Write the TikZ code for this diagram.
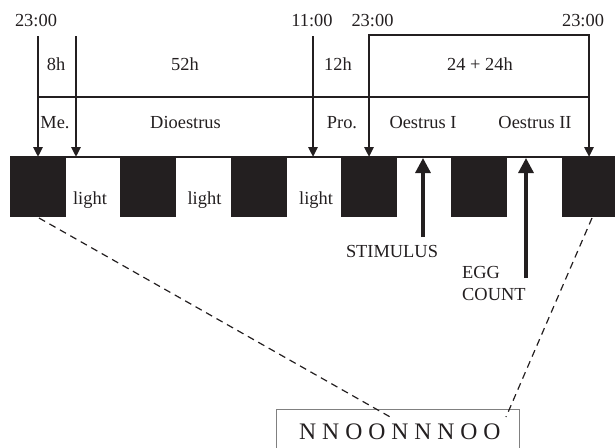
\documentclass[tikz,border=0pt]{standalone}
\usepackage{fontspec}
\setmainfont{Liberation Serif}
\usetikzlibrary{arrows.meta}
\definecolor{ink}{HTML}{231F20}
\begin{document}
\begin{tikzpicture}[x=1pt,y=-1pt,
  lbl/.style={font=\fontsize{18.4}{22}\selectfont, text=ink, inner sep=0, anchor=base},
  dark/.style={fill=ink, draw=none, inner sep=0, minimum height=61pt, anchor=north west},
  heavy/.style={draw=ink, line width=2.8pt},
  downarr/.style={heavy, -{Triangle[width=9pt,length=10pt]}},
  bothdown/.style={heavy, line join=miter, {Triangle[width=9pt,length=10pt]}-{Triangle[width=9pt,length=10pt]}},
  uparr/.style={draw=ink, line width=3.2pt, -{Triangle[width=15pt,length=15pt]}},
  link/.style={draw=ink, line width=1.2pt, dash pattern=on 7pt off 5pt},
]
\useasboundingbox (0,0) rectangle (615,447);

% dark periods
\node[dark, minimum width=56pt] (k1) at (10,156) {};
\node[dark, minimum width=56pt] (k2) at (120,156) {};
\node[dark, minimum width=56pt] (k3) at (231,156) {};
\node[dark, minimum width=56pt] (k4) at (341,156) {};
\node[dark, minimum width=56pt] (k5) at (451,156) {};
\node[dark, minimum width=53pt] (k6) at (562,156) {};

% bar top line
\coordinate (barL) at (10,157);
\coordinate (barR) at (615,157);
\draw[heavy] (barL) -- (barR);

% light labels
\node[lbl] (l1) at (90,204) {light};
\node[lbl] (l2) at (204.5,204) {light};
\node[lbl] (l3) at (316,204) {light};

% arrow coordinates
\coordinate (t1) at (38,36);  \coordinate (b1) at (38,157);
\coordinate (t2) at (76,36);  \coordinate (b2) at (76,157);
\coordinate (t3) at (313,36); \coordinate (b3) at (313,157);
\coordinate (c4) at (369,35); \coordinate (b4) at (369,157);
\coordinate (c5) at (589,35); \coordinate (b5) at (589,157);
\coordinate (hL) at (38,97);  \coordinate (hR) at (589,97);

\draw[downarr] (t1) -- (b1);
\draw[downarr] (t2) -- (b2);
\draw[downarr] (t3) -- (b3);
\draw[bothdown] (b4) -- (c4) -- (c5) -- (b5);
\draw[heavy] (hL) -- (hR);

% times
\node[lbl] (tm1) at (36,27) {23:00};
\node[lbl] (tm2) at (312,27) {11:00};
\node[lbl] (tm3) at (372.5,27) {23:00};
\node[lbl] (tm4) at (583,27) {23:00};

% durations
\node[lbl] (du1) at (56,70.5) {8h};
\node[lbl] (du2) at (185,70.5) {52h};
\node[lbl] (du3) at (338,70.5) {12h};
\node[lbl] (du4) at (480,70.5) {24 + 24h};

% stages
\node[lbl] (st1) at (55,128) {Me.};
\node[lbl] (st2) at (185.5,128) {Dioestrus};
\node[lbl] (st3) at (342,128) {Pro.};
\node[lbl] (st4) at (423,128) {Oestrus I};
\node[lbl] (st5) at (535,128) {Oestrus II};

% stimulus & egg count
\coordinate (s0) at (423,237); \coordinate (s1) at (423,158);
\coordinate (e0) at (526,278); \coordinate (e1) at (526,158);
\draw[uparr] (s0) -- (s1);
\draw[uparr] (e0) -- (e1);
\node[lbl] (stim) at (392,257) {STIMULUS};
\node[lbl, anchor=base west] (egg) at (462,278) {EGG};
\node[lbl, anchor=base west] (cnt) at (462,300) {COUNT};

% result box
\node[draw=gray, line width=0.9pt, anchor=north west, minimum width=243pt, minimum height=60pt, inner sep=0] (res) at (276,409) {};
\node[font=\fontsize{23.7}{28}\selectfont, text=ink, inner sep=0, anchor=base west] (seq) at (299,439) {N N O O N N N O O};

% zoom links
\coordinate (z1) at (39,218); \coordinate (z2) at (392,418);
\coordinate (z3) at (592,218); \coordinate (z4) at (506,417);
\draw[link] (z1) -- (z2);
\draw[link] (z3) -- (z4);
\end{tikzpicture}
\end{document}
